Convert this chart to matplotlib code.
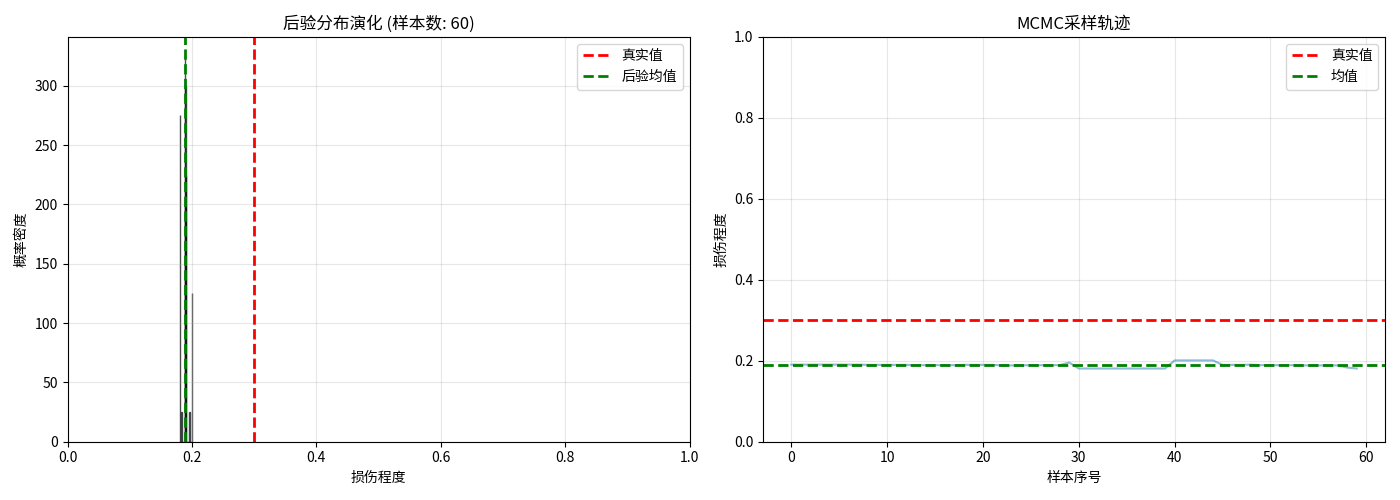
import numpy as np
import matplotlib
matplotlib.use("Agg")
import matplotlib.pyplot as plt

plt.rcParams['font.family'] = ['Noto Sans CJK SC', 'DejaVu Sans']
plt.rcParams['axes.unicode_minus'] = False

# 数据
true_value = 0.3
samples = np.array(
    [0.1904] * 8 +
    [0.1898] * 5 + [0.1891] * 5 + [0.1898] * 4 + [0.1885] * 3 + [0.1891] * 4 +
    [0.1955] +
    [0.1808] * 10 +
    [0.2008] * 5 +
    [0.1898] * 3 + [0.1904] + [0.1891] * 4 + [0.1885] * 5 +
    [0.1832, 0.1808]
)
post_mean = samples.mean()

fig, (ax1, ax2) = plt.subplots(1, 2, figsize=(14, 5))

# 后验分布
ax1.hist(samples, bins=30, density=True, alpha=0.7, color='skyblue', edgecolor='black')
ax1.axvline(true_value, color='red', linestyle='--', linewidth=2, label='真实值')
ax1.axvline(post_mean, color='green', linestyle='--', linewidth=2, label='后验均值')
ax1.set_xlim(0, 1)
ax1.set_xlabel('损伤程度')
ax1.set_ylabel('概率密度')
ax1.set_title(f'后验分布演化 (样本数: {len(samples)})')
ax1.legend()
ax1.grid(True, alpha=0.3)

# 采样轨迹
ax2.plot(samples, alpha=0.5)
ax2.axhline(true_value, color='red', linestyle='--', linewidth=2, label='真实值')
ax2.axhline(post_mean, color='green', linestyle='--', linewidth=2, label='均值')
ax2.set_ylim(0, 1)
ax2.set_xlabel('样本序号')
ax2.set_ylabel('损伤程度')
ax2.set_title('MCMC采样轨迹')
ax2.legend()
ax2.grid(True, alpha=0.3)

plt.tight_layout()
plt.savefig('out.png', dpi=100)
